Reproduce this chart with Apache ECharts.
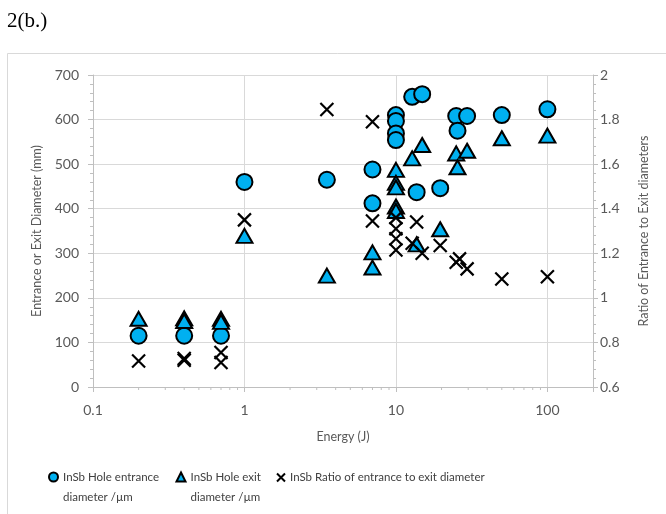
<!DOCTYPE html>
<html><head><meta charset="utf-8">
<script src="https://cdn.jsdelivr.net/npm/echarts@6/dist/echarts.min.js"></script>
<style>html,body{margin:0;padding:0;background:#fff}#c{width:666px;height:514px}</style>
</head><body><div id="c"></div>
<script>
// ---- data ----
const entranceEnergy   = [0.2, 0.4, 0.7, 1, 3.5, 7, 7, 10, 10, 10, 10, 12.8, 13.7, 14.9, 19.6, 25, 25.5, 29.5, 50, 100];
const entranceDiameter = [115, 115, 115, 460, 465, 488, 412, 610, 597, 569, 554, 651, 437, 657, 446, 608, 575, 608, 610, 623];

const exitEnergy   = [0.2, 0.4, 0.4, 0.7, 0.7, 1, 3.5, 7, 7, 10, 10, 10, 10, 10, 12.8, 13.7, 14.9, 19.6, 25, 25.5, 29.5, 50, 100];
const exitDiameter = [153, 154, 148, 153, 146, 339, 250, 302, 268, 487, 458, 448, 405, 395, 513, 320, 543, 354, 524, 493, 530, 558, 564];

const ratioEnergy = [0.2, 0.4, 0.4, 0.7, 0.7, 1, 3.5, 7, 7, 10, 10, 10, 10, 12.8, 13.7, 14.9, 19.6, 25, 26.3, 29.5, 50, 100];
const ratioValue  = [0.717, 0.72, 0.728, 0.71, 0.755, 1.35, 1.845, 1.79, 1.345, 1.36, 1.31, 1.265, 1.215, 1.245, 1.34, 1.2, 1.235, 1.16, 1.175, 1.13, 1.085, 1.095];

const xTickLabels = ['0.1', '1', '10', '100'];
const xMinorTicks = [0.2, 0.3, 0.4, 0.5, 0.6, 0.7, 0.8, 0.9, 2, 3, 4, 5, 6, 7, 8, 9, 20, 30, 40, 50, 60, 70, 80, 90];

const nameEntrance = 'InSb Hole entrance\ndiameter /µm';
const nameExit = 'InSb Hole exit\ndiameter /µm';
const nameRatio = 'InSb Ratio of entrance to exit diameter';

// ---- chart ----
const FONT = 'Lato';
const LABEL = '#595959';
const AXIS = '#BFBFBF';
const GRID = '#D9D9D9';
const XPATH = 'path://M0,0L10,10M10,0L0,10';

const zip = (a, b) => a.map((v, i) => [v, b[i]]);

const chart = echarts.init(document.getElementById('c'), null, {renderer: 'canvas'});
const legendText = {fontFamily: FONT, fontSize: 11.5, color: '#404040', lineHeight: 20};
// two-line legend entries: an empty leading line keeps the first text line level with the icon
const twoLine = (name) => '\n' + name;
chart.setOption({
  animation: false,
  backgroundColor: '#fff',
  title: {
    text: '2(b.)', left: 7, top: 11, padding: 0,
    textStyle: {fontFamily: 'Liberation Serif', fontSize: 21, fontWeight: 'normal', color: '#000'}
  },
  graphic: [{
    type: 'rect', z: -10, silent: true,
    shape: {x: 7.5, y: 53.5, width: 700, height: 500},
    style: {fill: 'none', stroke: '#D9D9D9', lineWidth: 1}
  }],
  grid: {left: 93, right: 73, top: 75, bottom: 127, containLabel: false},
  legend: [
    {data: [{name: nameEntrance, icon: 'circle'}], formatter: twoLine, left: 48, top: 447, padding: 0, itemWidth: 9, itemHeight: 9, textStyle: legendText, selectedMode: false},
    {data: [{name: nameExit, icon: 'triangle'}], formatter: twoLine, left: 175.5, top: 447, padding: 0, itemWidth: 9, itemHeight: 9, textStyle: legendText, selectedMode: false},
    {data: [{name: nameRatio, icon: XPATH}], left: 276, top: 467.5, padding: 0, itemWidth: 8, itemHeight: 8, textStyle: legendText, selectedMode: false}
  ],
  xAxis: {
    type: 'log', logBase: 10, min: 0.1, max: 200,
    name: 'Energy (J)', nameLocation: 'middle', nameGap: 43,
    nameTextStyle: {fontFamily: FONT, fontSize: 12.5, color: LABEL},
    axisLine: {show: true, lineStyle: {color: AXIS}},
    axisTick: {show: true, length: 5, lineStyle: {color: AXIS}},
    axisLabel: {
      margin: 16, color: LABEL, fontFamily: FONT, fontSize: 14,
      formatter: (v) => { const s = String(+Number(v).toPrecision(6)); return xTickLabels.includes(s) ? s : ''; }
    },
    splitLine: {show: true, lineStyle: {color: GRID}}
  },
  yAxis: [{
    type: 'value', min: 0, max: 700, interval: 100,
    name: 'Entrance or Exit Diameter (mm)', nameLocation: 'middle', nameGap: 49, nameRotate: 90,
    nameTextStyle: {fontFamily: FONT, fontSize: 12.5, color: LABEL},
    axisLine: {show: true, lineStyle: {color: AXIS}},
    axisTick: {show: true, length: 5, lineStyle: {color: AXIS}},
    minorTick: {show: true, splitNumber: 5, length: 3, lineStyle: {color: AXIS}},
    axisLabel: {margin: 14, color: LABEL, fontFamily: FONT, fontSize: 14},
    splitLine: {show: true, lineStyle: {color: GRID}}
  }, {
    type: 'value', min: 0.6, max: 2, interval: 0.2, position: 'right',
    name: 'Ratio of Entrance to Exit diameters', nameLocation: 'middle', nameGap: 44, nameRotate: 90,
    nameTextStyle: {fontFamily: FONT, fontSize: 12.5, color: LABEL},
    axisLine: {show: true, lineStyle: {color: AXIS}},
    axisTick: {show: true, length: 5, lineStyle: {color: AXIS}},
    minorTick: {show: true, splitNumber: 5, length: 3, lineStyle: {color: AXIS}},
    axisLabel: {margin: 7, color: LABEL, fontFamily: FONT, fontSize: 14},
    splitLine: {show: false}
  }],
  series: [
    {
      type: 'custom', silent: true, clip: false, xAxisIndex: 0, yAxisIndex: 0, z: 1,
      data: xMinorTicks.map(v => [v, 0]),
      renderItem: (params, api) => {
        const p = api.coord([api.value(0), 0]);
        return {type: 'line', shape: {x1: p[0], y1: p[1], x2: p[0], y2: p[1] + 3}, style: {stroke: AXIS, lineWidth: 1}};
      }
    },
    {
      name: nameEntrance, type: 'scatter', yAxisIndex: 0, z: 3,
      symbol: 'circle', symbolSize: 16,
      itemStyle: {color: '#00B0F0', borderColor: '#000', borderWidth: 2, opacity: 1},
      emphasis: {disabled: true},
      data: zip(entranceEnergy, entranceDiameter)
    },
    {
      name: nameExit, type: 'scatter', yAxisIndex: 0, z: 4,
      symbol: 'triangle', symbolSize: [16, 14],
      itemStyle: {color: '#00B0F0', borderColor: '#000', borderWidth: 2, opacity: 1},
      emphasis: {disabled: true},
      data: zip(exitEnergy, exitDiameter)
    },
    {
      name: nameRatio, type: 'scatter', yAxisIndex: 1, z: 5,
      symbol: XPATH, symbolSize: 13,
      itemStyle: {color: '#000', borderColor: '#000', borderWidth: 2.2, opacity: 1},
      emphasis: {disabled: true},
      data: zip(ratioEnergy, ratioValue)
    }
  ]
});
</script>
</body></html>
